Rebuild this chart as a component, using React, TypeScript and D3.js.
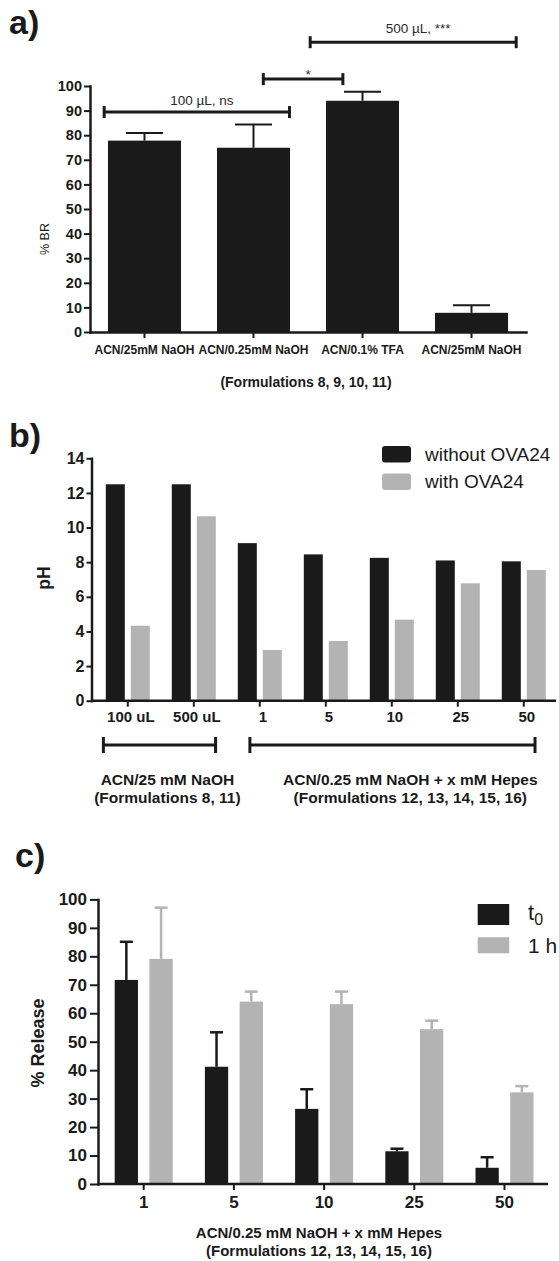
import React, { useEffect, useRef } from 'react';
import * as d3 from 'd3';

const W = 559;
const H = 1261;
const FONT = '"Liberation Sans", Arial, Helvetica, sans-serif';
const INK = '#1a1a1a';
const GREY = '#b3b3b3';

// a) % BR per formulation
const brKeys = ['F8', 'F9', 'F10', 'F11'];
const brLabels = ['ACN/25mM NaOH', 'ACN/0.25mM NaOH', 'ACN/0.1% TFA', 'ACN/25mM NaOH'];
const brMeans = [77.8, 74.9, 94.0, 7.8];
const brErrors = [3.1, 9.4, 3.7, 3.1];
const brTicks = [0, 10, 20, 30, 40, 50, 60, 70, 80, 90, 100];
// significance brackets: ends in category-index units, height in % BR units
const sigLabels = ['100 µL, ns', '*', '500 µL, ***'];
const sigFrom = [-0.37, 1.09, 1.52];
const sigTo = [1.33, 1.82, 3.41];
const sigLevel = [89.4, 102.8, 117.8];

// b) pH without / with OVA24
const phGroups = ['100 uL', '500 uL', '1', '5', '10', '25', '50'];
const phSeries = ['without OVA24', 'with OVA24'];
const phWithout = [12.5, 12.5, 9.1, 8.45, 8.25, 8.1, 8.05];
const phWith = [4.33, 10.65, 2.93, 3.45, 4.68, 6.78, 7.55];
const phTicks = [0, 2, 4, 6, 8, 10, 12, 14];
const phSetLines = [
  ['ACN/25 mM NaOH', '(Formulations 8, 11)'],
  ['ACN/0.25 mM NaOH + x mM Hepes', '(Formulations 12, 13, 14, 15, 16)'],
];
const phSetFrom = [-0.37, 1.85];
const phSetTo = [1.33, 6.17];
const phSetTextAt = [0.6, 4.28];

// c) % release at t0 and 1 h
const hepes = ['1', '5', '10', '25', '50'];
const relSeries = ['t0', '1 h'];
const relT0 = [71.7, 41.2, 26.4, 11.5, 5.7];
const relT0Err = [13.4, 12.1, 6.9, 0.9, 3.7];
const rel1h = [79.1, 64.1, 63.2, 54.4, 32.2];
const rel1hErr = [18.0, 3.5, 4.4, 3.0, 2.2];
const relTicks = [0, 10, 20, 30, 40, 50, 60, 70, 80, 90, 100];

function styleAxis(g, size) {
  g.attr('font-family', FONT).attr('font-size', size).attr('font-weight', 'bold');
  g.selectAll('path.domain').attr('stroke', INK).attr('stroke-width', 2.5).attr('stroke-linecap', 'square');
  g.selectAll('.tick line').attr('stroke', INK).attr('stroke-width', 2);
  g.selectAll('.tick text').attr('fill', INK);
}

function App() {
  const svgRef = useRef(null);

  useEffect(() => {
    const svg = d3.select(svgRef.current);
    svg.selectAll('*').remove();

    const label = (x, y, txt, size, weight = 'normal', anchor = 'start') =>
      svg.append('text')
        .attr('x', x).attr('y', y)
        .attr('font-family', FONT).attr('font-size', size).attr('font-weight', weight)
        .attr('text-anchor', anchor).attr('fill', INK)
        .text(txt);

    // ---------- a) ----------
    label(9, 34, 'a)', 34, 'bold');
    const ya = d3.scaleLinear().domain([0, 100]).range([332, 86]);
    const xa = d3.scaleBand().domain(brKeys).range([90, 526]).paddingInner(0.33).paddingOuter(0.165);
    const cA = (i) => xa(brKeys[i]) + xa.bandwidth() / 2;
    const idxA = d3.scaleLinear().domain([0, 1]).range([cA(0), cA(1)]);

    const gA = svg.append('g');
    gA.selectAll('rect').data(brMeans).enter().append('rect')
      .attr('x', (d, i) => xa(brKeys[i]))
      .attr('y', d => ya(d))
      .attr('width', xa.bandwidth())
      .attr('height', d => ya(0) - ya(d))
      .attr('fill', INK);
    brMeans.forEach((m, i) => {
      const top = ya(m + brErrors[i]);
      gA.append('line').attr('x1', cA(i)).attr('x2', cA(i)).attr('y1', ya(m)).attr('y2', top)
        .attr('stroke', INK).attr('stroke-width', 2);
      gA.append('line').attr('x1', cA(i) - 18.5).attr('x2', cA(i) + 18.5).attr('y1', top).attr('y2', top)
        .attr('stroke', INK).attr('stroke-width', 2);
    });

    styleAxis(svg.append('g').attr('transform', 'translate(90,0)')
      .call(d3.axisLeft(ya).tickValues(brTicks).tickSize(6).tickPadding(2).tickSizeOuter(0)), 14.5);
    styleAxis(svg.append('g').attr('transform', `translate(0,${ya(0)})`)
      .call(d3.axisBottom(xa).tickFormat((d, i) => brLabels[i]).tickSize(6).tickPadding(7).tickSizeOuter(0)), 12);

    svg.append('text')
      .attr('transform', `translate(49,${(ya(0) + ya(100)) / 2 + 30}) rotate(-90)`)
      .attr('font-family', FONT).attr('font-size', 12.5).attr('text-anchor', 'middle').attr('fill', INK)
      .text('% BR');
    label(306, 386.5, '(Formulations 8, 9, 10, 11)', 14, 'bold', 'middle');

    const sigGap = [7.5, 0.5, 9.5];
    sigLabels.forEach((t, i) => {
      const x1 = idxA(sigFrom[i]);
      const x2 = idxA(sigTo[i]);
      const y = ya(sigLevel[i]);
      const g = svg.append('g').attr('stroke', INK).attr('stroke-width', 3);
      g.append('line').attr('x1', x1).attr('x2', x2).attr('y1', y).attr('y2', y);
      g.append('line').attr('x1', x1).attr('x2', x1).attr('y1', y - 6).attr('y2', y + 6);
      g.append('line').attr('x1', x2).attr('x2', x2).attr('y1', y - 6).attr('y2', y + 6);
      label((x1 + x2) / 2 + 5, y - sigGap[i], t, 13.5, 'normal', 'middle').attr('fill', '#2a2a2a');
    });

    // ---------- b) ----------
    label(9, 447, 'b)', 34, 'bold');
    const yb = d3.scaleLinear().domain([0, 14]).range([700.7, 458.3]);
    const xb = d3.scaleBand().domain(phGroups).range([94.8, 556.8]).padding(0);
    const xbIn = d3.scaleBand().domain(phSeries).range([11, 55]).paddingInner(0.24);
    const colorB = d3.scaleOrdinal().domain(phSeries).range([INK, GREY]);
    const phRows = phGroups.map((g, i) => ({ g, vals: [phWithout[i], phWith[i]] }));

    const groupsB = svg.append('g').selectAll('g').data(phRows).enter().append('g')
      .attr('transform', d => `translate(${xb(d.g)},0)`);
    groupsB.selectAll('rect').data(d => d.vals.map((v, k) => ({ k: phSeries[k], v }))).enter().append('rect')
      .attr('x', d => xbIn(d.k))
      .attr('y', d => yb(d.v))
      .attr('width', xbIn.bandwidth())
      .attr('height', d => yb(0) - yb(d.v))
      .attr('fill', d => colorB(d.k));

    styleAxis(svg.append('g').attr('transform', 'translate(91.5,0)')
      .call(d3.axisLeft(yb).tickValues(phTicks).tickSize(5).tickPadding(2).tickSizeOuter(0)), 16);
    const axB = svg.append('g').attr('transform', `translate(0,${yb(0)})`)
      .call(d3.axisBottom(xb).tickSize(6).tickPadding(5).tickSizeOuter(0));
    styleAxis(axB, 15);
    axB.select('path.domain').remove();
    axB.selectAll('.tick text').attr('dx', 3);
    svg.append('line').attr('x1', 91.5).attr('x2', 556).attr('y1', yb(0)).attr('y2', yb(0))
      .attr('stroke', INK).attr('stroke-width', 2.5);

    svg.append('text')
      .attr('transform', `translate(50,578) rotate(-90)`)
      .attr('font-family', FONT).attr('font-size', 17.5).attr('font-weight', 'bold')
      .attr('text-anchor', 'middle').attr('fill', INK)
      .text('pH');

    const cB0 = xb(phGroups[0]) + xb.bandwidth() / 2;
    const idxB = d3.scaleLinear().domain([0, 1]).range([cB0, cB0 + xb.step()]);
    phSetLines.forEach((lines, i) => {
      const x1 = idxB(phSetFrom[i]);
      const x2 = idxB(phSetTo[i]);
      const y = 745;
      const g = svg.append('g').attr('stroke', INK).attr('stroke-width', 3);
      g.append('line').attr('x1', x1).attr('x2', x2).attr('y1', y).attr('y2', y);
      g.append('line').attr('x1', x1).attr('x2', x1).attr('y1', y - 8).attr('y2', y + 8);
      g.append('line').attr('x1', x2).attr('x2', x2).attr('y1', y - 8).attr('y2', y + 8);
      lines.forEach((t, j) => label(idxB(phSetTextAt[i]), 785 + j * 17.5, t, 15.5, 'bold', 'middle'));
    });

    phSeries.forEach((s, i) => {
      svg.append('rect').attr('x', 382).attr('y', 446 + i * 27.5).attr('width', 29).attr('height', 16.5)
        .attr('rx', 3).attr('fill', colorB(s));
      label(425, 460.7 + i * 27.6, s, 19);
    });

    // ---------- c) ----------
    label(15, 867, 'c)', 34, 'bold');
    const yc = d3.scaleLinear().domain([0, 100]).range([1184, 899.4]);
    const xc = d3.scaleBand().domain(hepes).range([98.6, 549.6]).padding(0);
    const xcIn = d3.scaleBand().domain(relSeries).range([16.1, 74.1]).paddingInner(0.33);
    const colorC = d3.scaleOrdinal().domain(relSeries).range([INK, GREY]);
    const relRows = hepes.map((h, i) => ({
      h,
      vals: [
        { k: relSeries[0], v: relT0[i], e: relT0Err[i] },
        { k: relSeries[1], v: rel1h[i], e: rel1hErr[i] },
      ],
    }));

    const groupsC = svg.append('g').selectAll('g').data(relRows).enter().append('g')
      .attr('transform', d => `translate(${xc(d.h)},0)`);
    const cells = groupsC.selectAll('g').data(d => d.vals).enter().append('g');
    cells.append('line')
      .attr('x1', d => xcIn(d.k) + xcIn.bandwidth() / 2)
      .attr('x2', d => xcIn(d.k) + xcIn.bandwidth() / 2)
      .attr('y1', d => yc(d.v)).attr('y2', d => yc(d.v + d.e))
      .attr('stroke', d => colorC(d.k)).attr('stroke-width', 2.5);
    cells.append('line')
      .attr('x1', d => xcIn(d.k) + xcIn.bandwidth() / 2 - 6.5)
      .attr('x2', d => xcIn(d.k) + xcIn.bandwidth() / 2 + 6.5)
      .attr('y1', d => yc(d.v + d.e)).attr('y2', d => yc(d.v + d.e))
      .attr('stroke', d => colorC(d.k)).attr('stroke-width', 2.5);
    cells.append('rect')
      .attr('x', d => xcIn(d.k))
      .attr('y', d => yc(d.v))
      .attr('width', xcIn.bandwidth())
      .attr('height', d => yc(0) - yc(d.v))
      .attr('fill', d => colorC(d.k));

    styleAxis(svg.append('g').attr('transform', 'translate(98,0)')
      .call(d3.axisLeft(yc).tickValues(relTicks).tickSize(8).tickPadding(3).tickSizeOuter(0)), 17);
    const axC = svg.append('g').attr('transform', `translate(0,${yc(0)})`)
      .call(d3.axisBottom(xc).tickSize(6).tickPadding(6).tickSizeOuter(0));
    styleAxis(axC, 17);
    axC.select('path.domain').remove();
    svg.append('line').attr('x1', 98).attr('x2', 548).attr('y1', yc(0)).attr('y2', yc(0))
      .attr('stroke', INK).attr('stroke-width', 2.5);

    svg.append('text')
      .attr('transform', `translate(43.5,1043) rotate(-90)`)
      .attr('font-family', FONT).attr('font-size', 18).attr('font-weight', 'bold')
      .attr('text-anchor', 'middle').attr('fill', INK)
      .text('% Release');
    label(319, 1238, 'ACN/0.25 mM NaOH + x mM Hepes', 15, 'bold', 'middle');
    label(319, 1256, '(Formulations 12, 13, 14, 15, 16)', 15, 'bold', 'middle');

    // legend c
    svg.append('rect').attr('x', 477.7).attr('y', 904).attr('width', 31.5).attr('height', 21).attr('fill', INK);
    svg.append('rect').attr('x', 477.7).attr('y', 937.3).attr('width', 31.5).attr('height', 16).attr('fill', GREY);
    const t0 = label(528, 920, 't', 22);
    t0.append('tspan').attr('font-size', 16).attr('dy', 5).text('0');
    label(528, 952.7, relSeries[1], 21);
  }, []);

  return (
    <svg
      ref={svgRef}
      width={W}
      height={H}
      style={{ position: 'absolute', left: 0, top: 0, background: '#fff' }}
    />
  );
}

export default App;
